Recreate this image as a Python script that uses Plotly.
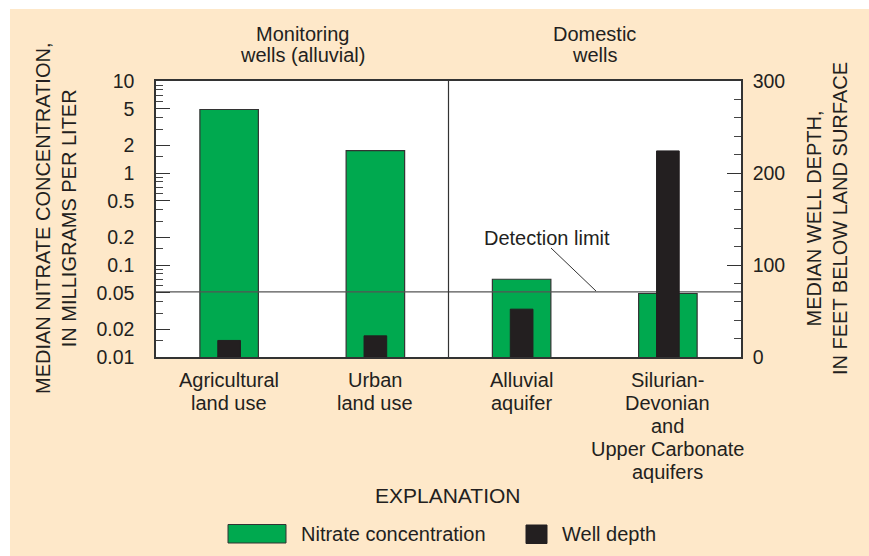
import plotly.graph_objects as go

# ---- data ----
categories = ["Agricultural land use", "Urban land use", "Alluvial aquifer",
              "Silurian-Devonian and Upper Carbonate aquifers"]
cat_lines = [["Agricultural", "land use"], ["Urban", "land use"],
             ["Alluvial", "aquifer"],
             ["Silurian-", "Devonian", "and", "Upper Carbonate", "aquifers"]]
cat_pos = [0, 1, 2, 3]
nitrate = [4.9, 1.75, 0.070, 0.049]        # mg/L (left, log axis)
well_depth = [18, 23, 52, 224]             # feet (right axis)
detection_limit = 0.051
left_ticks = [0.01, 0.02, 0.05, 0.1, 0.2, 0.5, 1, 2, 5, 10]
left_ticktext = ["0.01", "0.02", "0.05", "0.1", "0.2", "0.5", "1", "2", "5", "10"]
left_minor = [0.015, 0.03, 0.04, 0.06, 0.07, 0.08, 0.09, 0.15, 0.3, 0.4,
              0.6, 0.7, 0.8, 0.9, 1.5, 3, 4, 6, 7, 8, 9]
right_ticks = [0, 100, 200, 300]
group_titles = [["Monitoring", "wells (alluvial)"], ["Domestic", "wells"]]
group_centers = [0.5, 2.5]

# ---- style ----
OFF = 0                                   # page offset of the figure (body margin removed)
W, H = 869, 556                           # figure size
L, R, T, B = 156, 741, 81, 357            # plot area in page pixels
GREEN = "#00a94f"
BLACK = "#231f20"
TXT = "#231f20"
BG = "#fee8c9"
FONT = "Liberation Sans, Arial, Helvetica, sans-serif"
FS = 20


def px2x(px):
    return (px - L) / (R - L)


def py2y(py):
    return (B - py) / (B - T)


def txt(x, y, s, xref="paper", xanchor="center", size=FS, angle=0):
    return dict(x=x, xref=xref, y=y, yref="paper", text=s, showarrow=False,
                xanchor=xanchor, yanchor="middle", textangle=angle,
                font=dict(size=size, color=TXT, family=FONT))


fig = go.Figure()
fig.add_trace(go.Bar(x=cat_pos, y=nitrate, width=0.40, yaxis="y",
                     marker=dict(color=GREEN, line=dict(color="#333333", width=1.2)),
                     name="Nitrate concentration", showlegend=False))
fig.add_trace(go.Scatter(x=[-0.5, 3.5], y=[detection_limit, detection_limit],
                         mode="lines", line=dict(color="#555555", width=1.2),
                         yaxis="y", showlegend=False, hoverinfo="skip"))
fig.add_trace(go.Bar(x=cat_pos, y=well_depth, width=0.155, yaxis="y2",
                     marker=dict(color=BLACK, line=dict(color=BLACK, width=1)),
                     name="Well depth", showlegend=False))

annotations = []
for c, lines in zip(cat_pos, cat_lines):
    for k, t in enumerate(lines):
        annotations.append(txt(c, py2y(379.5 + 23.2 * k), t, xref="x"))
for c, lines in zip(group_centers, group_titles):
    for k, t in enumerate(lines):
        annotations.append(txt(c, py2y(33.5 + 21.8 * k), t, xref="x"))
annotations.append(txt(px2x(56), 0.5, "MEDIAN NITRATE CONCENTRATION,<br>IN MILLIGRAMS PER LITER",
                       angle=-90))
annotations.append(txt(px2x(827), 0.5, "MEDIAN WELL DEPTH,<br>IN FEET BELOW LAND SURFACE",
                       angle=-90))
annotations.append(txt(px2x(547), py2y(238), "Detection limit"))
annotations.append(txt(px2x(447), py2y(495.5), "EXPLANATION", size=21))
annotations.append(txt(px2x(299), py2y(534), "Nitrate concentration", xanchor="left"))
annotations.append(txt(px2x(560), py2y(534), "Well depth", xanchor="left"))

shapes = [
    dict(type="rect", xref="paper", yref="paper", x0=px2x(OFF), x1=px2x(10),
         y0=py2y(OFF + H), y1=py2y(OFF), fillcolor="white", line=dict(width=0), layer="below"),
    dict(type="rect", xref="paper", yref="paper", x0=px2x(OFF), x1=px2x(OFF + W),
         y0=py2y(9), y1=py2y(OFF), fillcolor="white", line=dict(width=0), layer="below"),
    dict(type="line", xref="x", yref="paper", x0=1.5, x1=1.5, y0=0, y1=1,
         line=dict(color="#333333", width=1.2)),
    dict(type="line", xref="paper", yref="paper", x0=px2x(551), y0=py2y(248),
         x1=px2x(596), y1=py2y(291), line=dict(color="#333333", width=1)),
    dict(type="rect", xref="paper", yref="paper", x0=px2x(228), x1=px2x(286),
         y0=py2y(543), y1=py2y(524.5), fillcolor=GREEN, line=dict(color="#333333", width=1)),
    dict(type="rect", xref="paper", yref="paper", x0=px2x(526), x1=px2x(547),
         y0=py2y(543.5), y1=py2y(525), fillcolor=BLACK, line=dict(color=BLACK, width=1)),
]

fig.update_layout(
    width=W, height=H, autosize=False,
    margin=dict(l=L - OFF, r=OFF + W - R, t=T - OFF, b=OFF + H - B, pad=0),
    paper_bgcolor=BG, plot_bgcolor="white",
    barmode="overlay", showlegend=False,
    font=dict(family=FONT, size=FS, color=TXT),
    xaxis=dict(range=[-0.5, 3.5], showticklabels=False, ticks="", showgrid=False,
               zeroline=False, showline=True, mirror=True, linecolor="#333333", linewidth=1.5),
    yaxis=dict(type="log", range=[-2, 1], tickmode="array", tickvals=left_ticks,
               ticktext=left_ticktext, ticks="inside", ticklen=14, tickwidth=1.2,
               tickcolor="#333333", showgrid=False, zeroline=False, showline=True,
               linecolor="#333333", linewidth=1.5, ticklabelstandoff=16,
               tickfont=dict(size=19.5, color=TXT, family=FONT),
               minor=dict(tickmode="array", tickvals=left_minor, ticks="inside",
                          ticklen=7, tickwidth=1.2, tickcolor="#444444", showgrid=False)),
    yaxis2=dict(overlaying="y", side="right", range=[0, 300], tickmode="array",
                tickvals=right_ticks, ticks="inside", ticklen=14, tickwidth=1.2,
                tickcolor="#333333", showgrid=False, zeroline=False, showline=True,
                linecolor="#333333", linewidth=1.5, ticklabelstandoff=6,
                tickfont=dict(size=19.5, color=TXT, family=FONT),
                minor=dict(tick0=0, dtick=20, ticks="inside", ticklen=7, tickwidth=1.2,
                           tickcolor="#444444", showgrid=False)),
    annotations=annotations, shapes=shapes,
)

fig.write_html(
    "out.html",
    config={"displayModeBar": False},
    post_script="document.body.style.margin='0';"
                "document.documentElement.style.overflow='hidden';"
                "document.body.style.overflow='hidden';",
)
